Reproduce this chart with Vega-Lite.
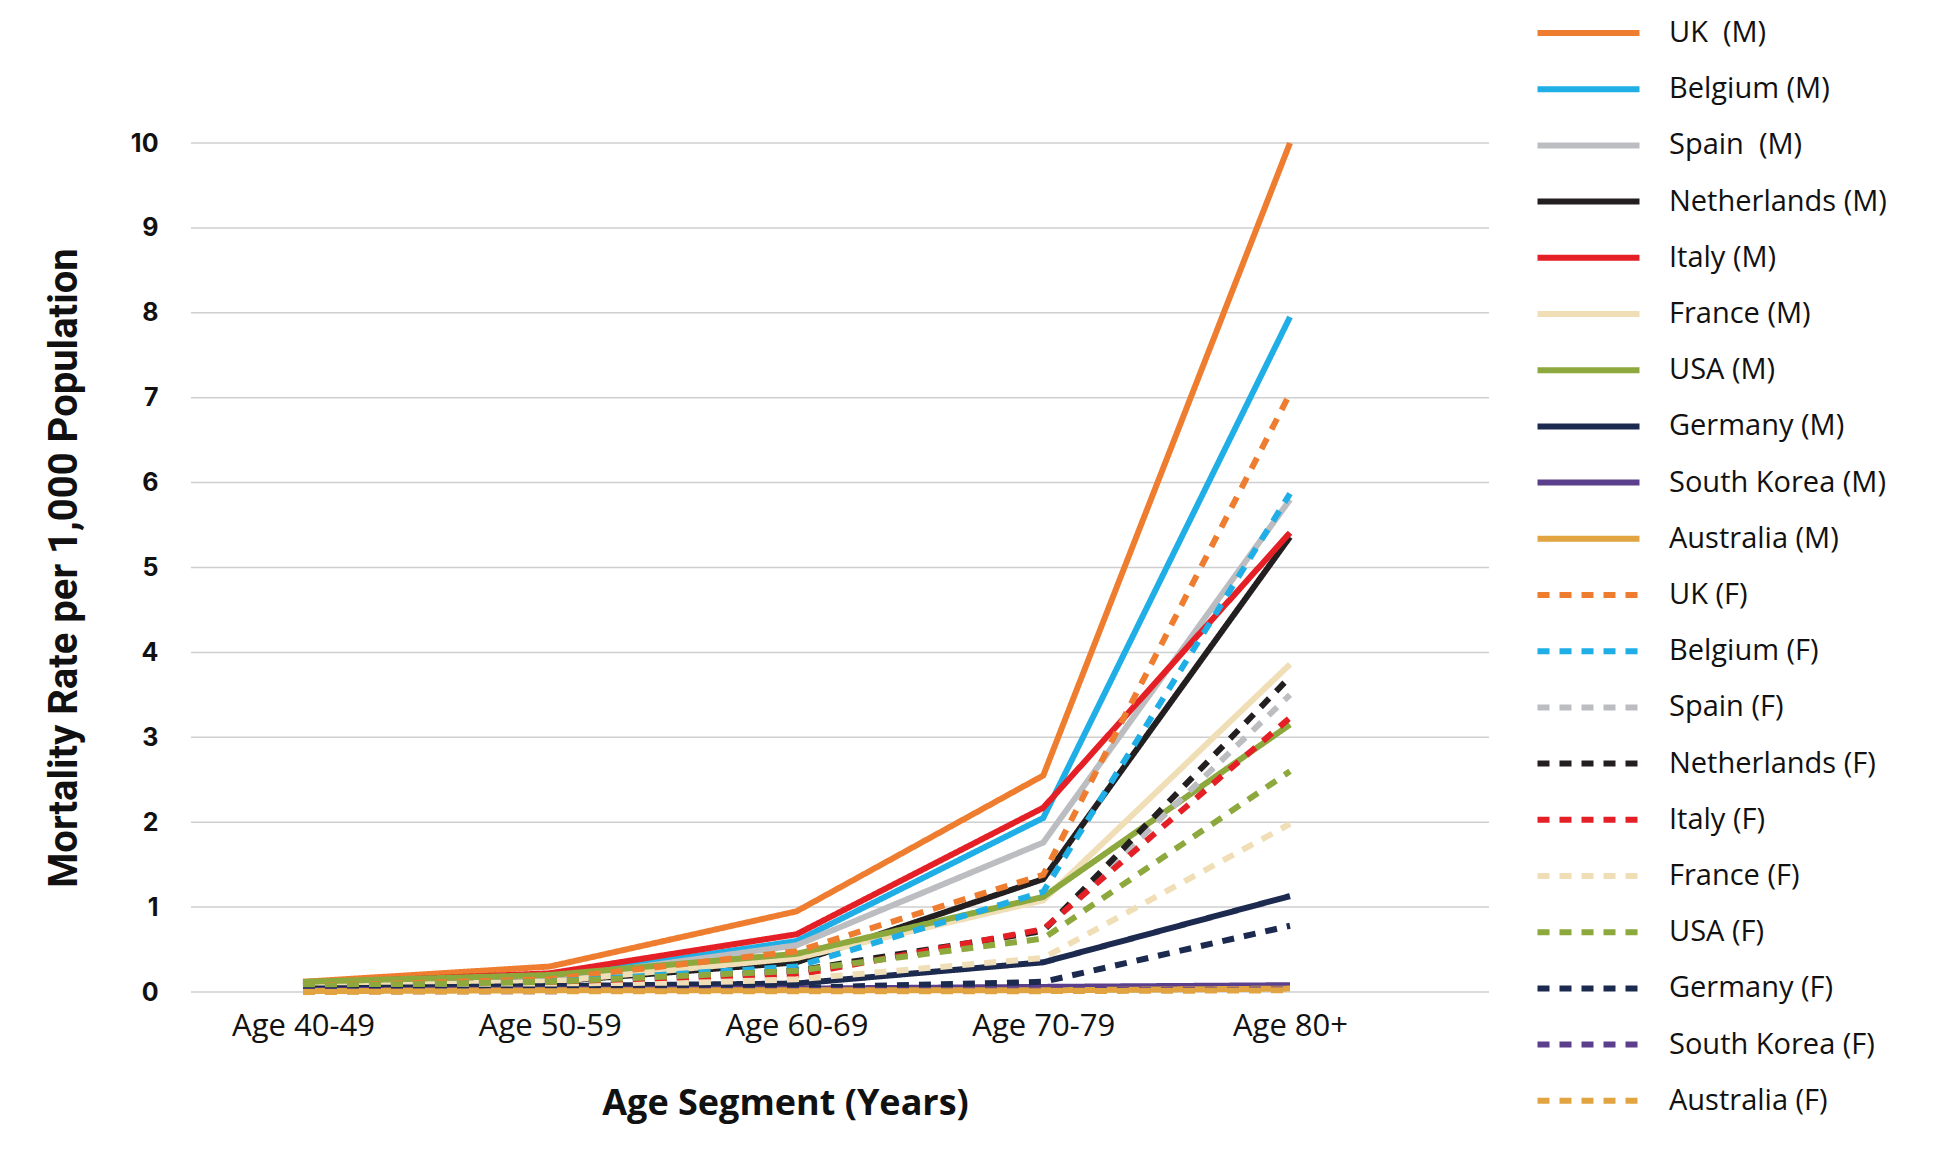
{
  "$schema": "https://vega.github.io/schema/vega-lite/v6.json",
  "autosize": "none",
  "width": 1298,
  "height": 849,
  "padding": {"left": 191, "top": 143, "right": 448, "bottom": 168},
  "background": "white",
  "config": {"view": {"stroke": null}, "font": "Open Sans"},
  "encoding": {
    "y": {
      "field": "rate", "type": "quantitative",
      "scale": {"domain": [0, 10], "nice": false, "zero": true},
      "axis": {
        "title": "Mortality Rate per 1,000 Population", "titleFont": "Roboto", "titleFontSize": 40, "titleFontWeight": "bold", "titleColor": "#111",
        "titlePadding": 46,
        "values": [0,1,2,3,4,5,6,7,8,9,10],
        "labelFont": "Inter", "labelFontSize": 25, "labelFontWeight": "bold", "labelColor": "#111", "labelPadding": 33,
        "ticks": false, "domain": false, "grid": false
      }
    }
  },
  "layer": [
    {
      "data": {"values": [{"rate": 0}, {"rate": 1}, {"rate": 2}, {"rate": 3}, {"rate": 4}, {"rate": 5}, {"rate": 6}, {"rate": 7}, {"rate": 8}, {"rate": 9}, {"rate": 10}]},
      "mark": {"type": "rule", "color": "#cfcfcf", "strokeWidth": 1.5},
      "encoding": {}
    },
    {
      "data": {"values": [
        {"series": "UK\u00a0\u00a0(M)", "age": "Age 40-49", "rate": 0.12},
        {"series": "UK\u00a0\u00a0(M)", "age": "Age 50-59", "rate": 0.30},
        {"series": "UK\u00a0\u00a0(M)", "age": "Age 60-69", "rate": 0.95},
        {"series": "UK\u00a0\u00a0(M)", "age": "Age 70-79", "rate": 2.55},
        {"series": "UK\u00a0\u00a0(M)", "age": "Age 80+", "rate": 10.0},
        {"series": "Belgium (M)", "age": "Age 40-49", "rate": 0.08},
        {"series": "Belgium (M)", "age": "Age 50-59", "rate": 0.17},
        {"series": "Belgium (M)", "age": "Age 60-69", "rate": 0.60},
        {"series": "Belgium (M)", "age": "Age 70-79", "rate": 2.05},
        {"series": "Belgium (M)", "age": "Age 80+", "rate": 7.95},
        {"series": "Spain\u00a0\u00a0(M)", "age": "Age 40-49", "rate": 0.08},
        {"series": "Spain\u00a0\u00a0(M)", "age": "Age 50-59", "rate": 0.15},
        {"series": "Spain\u00a0\u00a0(M)", "age": "Age 60-69", "rate": 0.55},
        {"series": "Spain\u00a0\u00a0(M)", "age": "Age 70-79", "rate": 1.76},
        {"series": "Spain\u00a0\u00a0(M)", "age": "Age 80+", "rate": 5.80},
        {"series": "Netherlands (M)", "age": "Age 40-49", "rate": 0.07},
        {"series": "Netherlands (M)", "age": "Age 50-59", "rate": 0.12},
        {"series": "Netherlands (M)", "age": "Age 60-69", "rate": 0.35},
        {"series": "Netherlands (M)", "age": "Age 70-79", "rate": 1.33},
        {"series": "Netherlands (M)", "age": "Age 80+", "rate": 5.36},
        {"series": "Italy (M)", "age": "Age 40-49", "rate": 0.10},
        {"series": "Italy (M)", "age": "Age 50-59", "rate": 0.22},
        {"series": "Italy (M)", "age": "Age 60-69", "rate": 0.68},
        {"series": "Italy (M)", "age": "Age 70-79", "rate": 2.17},
        {"series": "Italy (M)", "age": "Age 80+", "rate": 5.41},
        {"series": "France (M)", "age": "Age 40-49", "rate": 0.07},
        {"series": "France (M)", "age": "Age 50-59", "rate": 0.12},
        {"series": "France (M)", "age": "Age 60-69", "rate": 0.40},
        {"series": "France (M)", "age": "Age 70-79", "rate": 1.08},
        {"series": "France (M)", "age": "Age 80+", "rate": 3.86},
        {"series": "USA (M)", "age": "Age 40-49", "rate": 0.12},
        {"series": "USA (M)", "age": "Age 50-59", "rate": 0.20},
        {"series": "USA (M)", "age": "Age 60-69", "rate": 0.45},
        {"series": "USA (M)", "age": "Age 70-79", "rate": 1.12},
        {"series": "USA (M)", "age": "Age 80+", "rate": 3.15},
        {"series": "Germany (M)", "age": "Age 40-49", "rate": 0.04},
        {"series": "Germany (M)", "age": "Age 50-59", "rate": 0.07},
        {"series": "Germany (M)", "age": "Age 60-69", "rate": 0.10},
        {"series": "Germany (M)", "age": "Age 70-79", "rate": 0.35},
        {"series": "Germany (M)", "age": "Age 80+", "rate": 1.13},
        {"series": "South Korea (M)", "age": "Age 40-49", "rate": 0.02},
        {"series": "South Korea (M)", "age": "Age 50-59", "rate": 0.03},
        {"series": "South Korea (M)", "age": "Age 60-69", "rate": 0.04},
        {"series": "South Korea (M)", "age": "Age 70-79", "rate": 0.06},
        {"series": "South Korea (M)", "age": "Age 80+", "rate": 0.08},
        {"series": "Australia (M)", "age": "Age 40-49", "rate": 0.01},
        {"series": "Australia (M)", "age": "Age 50-59", "rate": 0.02},
        {"series": "Australia (M)", "age": "Age 60-69", "rate": 0.02},
        {"series": "Australia (M)", "age": "Age 70-79", "rate": 0.02},
        {"series": "Australia (M)", "age": "Age 80+", "rate": 0.04},
        {"series": "UK (F)", "age": "Age 40-49", "rate": 0.07},
        {"series": "UK (F)", "age": "Age 50-59", "rate": 0.15},
        {"series": "UK (F)", "age": "Age 60-69", "rate": 0.48},
        {"series": "UK (F)", "age": "Age 70-79", "rate": 1.38},
        {"series": "UK (F)", "age": "Age 80+", "rate": 7.05},
        {"series": "Belgium (F)", "age": "Age 40-49", "rate": 0.05},
        {"series": "Belgium (F)", "age": "Age 50-59", "rate": 0.12},
        {"series": "Belgium (F)", "age": "Age 60-69", "rate": 0.30},
        {"series": "Belgium (F)", "age": "Age 70-79", "rate": 1.18},
        {"series": "Belgium (F)", "age": "Age 80+", "rate": 5.87},
        {"series": "Spain (F)", "age": "Age 40-49", "rate": 0.04},
        {"series": "Spain (F)", "age": "Age 50-59", "rate": 0.07},
        {"series": "Spain (F)", "age": "Age 60-69", "rate": 0.22},
        {"series": "Spain (F)", "age": "Age 70-79", "rate": 0.72},
        {"series": "Spain (F)", "age": "Age 80+", "rate": 3.50},
        {"series": "Netherlands (F)", "age": "Age 40-49", "rate": 0.05},
        {"series": "Netherlands (F)", "age": "Age 50-59", "rate": 0.08},
        {"series": "Netherlands (F)", "age": "Age 60-69", "rate": 0.25},
        {"series": "Netherlands (F)", "age": "Age 70-79", "rate": 0.72},
        {"series": "Netherlands (F)", "age": "Age 80+", "rate": 3.71},
        {"series": "Italy (F)", "age": "Age 40-49", "rate": 0.05},
        {"series": "Italy (F)", "age": "Age 50-59", "rate": 0.10},
        {"series": "Italy (F)", "age": "Age 60-69", "rate": 0.20},
        {"series": "Italy (F)", "age": "Age 70-79", "rate": 0.74},
        {"series": "Italy (F)", "age": "Age 80+", "rate": 3.23},
        {"series": "France (F)", "age": "Age 40-49", "rate": 0.03},
        {"series": "France (F)", "age": "Age 50-59", "rate": 0.05},
        {"series": "France (F)", "age": "Age 60-69", "rate": 0.15},
        {"series": "France (F)", "age": "Age 70-79", "rate": 0.40},
        {"series": "France (F)", "age": "Age 80+", "rate": 1.98},
        {"series": "USA (F)", "age": "Age 40-49", "rate": 0.07},
        {"series": "USA (F)", "age": "Age 50-59", "rate": 0.12},
        {"series": "USA (F)", "age": "Age 60-69", "rate": 0.25},
        {"series": "USA (F)", "age": "Age 70-79", "rate": 0.63},
        {"series": "USA (F)", "age": "Age 80+", "rate": 2.60},
        {"series": "Germany (F)", "age": "Age 40-49", "rate": 0.02},
        {"series": "Germany (F)", "age": "Age 50-59", "rate": 0.03},
        {"series": "Germany (F)", "age": "Age 60-69", "rate": 0.05},
        {"series": "Germany (F)", "age": "Age 70-79", "rate": 0.12},
        {"series": "Germany (F)", "age": "Age 80+", "rate": 0.78},
        {"series": "South Korea (F)", "age": "Age 40-49", "rate": 0.01},
        {"series": "South Korea (F)", "age": "Age 50-59", "rate": 0.01},
        {"series": "South Korea (F)", "age": "Age 60-69", "rate": 0.02},
        {"series": "South Korea (F)", "age": "Age 70-79", "rate": 0.02},
        {"series": "South Korea (F)", "age": "Age 80+", "rate": 0.03},
        {"series": "Australia (F)", "age": "Age 40-49", "rate": 0.0},
        {"series": "Australia (F)", "age": "Age 50-59", "rate": 0.01},
        {"series": "Australia (F)", "age": "Age 60-69", "rate": 0.01},
        {"series": "Australia (F)", "age": "Age 70-79", "rate": 0.01},
        {"series": "Australia (F)", "age": "Age 80+", "rate": 0.02}
      ]},
      "mark": {"type": "line", "strokeWidth": 6, "strokeCap": "butt", "strokeJoin": "miter"},
      "encoding": {
        "x": {
          "field": "age", "type": "ordinal",
          "scale": {"type": "point", "padding": 0, "domain": ["Age 40-49", "Age 50-59", "Age 60-69", "Age 70-79", "Age 80+"], "range": [112, 1099]},
          "axis": {
            "title": "Age Segment (Years)", "titleFontSize": 36, "titleFontWeight": "bold", "titleColor": "#111",
            "titlePadding": 45, "titleX": 594, "titleAnchor": "middle",
            "labelFontSize": 31, "labelColor": "#111", "labelPadding": 19, "labelAngle": 0,
            "ticks": false, "domain": false, "grid": false
          }
        },
        "color": {
          "field": "series", "type": "nominal",
          "scale": {
            "domain": ["UK\u00a0\u00a0(M)", "Belgium (M)", "Spain\u00a0\u00a0(M)", "Netherlands (M)", "Italy (M)", "France (M)", "USA (M)", "Germany (M)", "South Korea (M)", "Australia (M)", "UK (F)", "Belgium (F)", "Spain (F)", "Netherlands (F)", "Italy (F)", "France (F)", "USA (F)", "Germany (F)", "South Korea (F)", "Australia (F)"],
            "range": ["#EE7D2F", "#1FAEE5", "#BBBDC0", "#231F20", "#E41F26", "#F0DFB6", "#8DA83C", "#1C2A50", "#5B3F8C", "#E1A441", "#EE7D2F", "#1FAEE5", "#BBBDC0", "#231F20", "#E41F26", "#F0DFB6", "#8DA83C", "#1C2A50", "#5B3F8C", "#E1A441"]
          },
          "legend": {
            "title": null, "orient": "none", "legendX": 1369, "legendY": -138.5, "direction": "vertical", "columns": 1,
            "symbolType": "M-2,0H2", "symbolSize": 2601, "symbolStrokeWidth": 6,
            "labelFont": "Open Sans", "labelFontSize": 29, "labelColor": "#111", "labelOffset": 52, "rowPadding": 12.2, "labelLimit": 400
          }
        },
        "strokeDash": {
          "field": "series", "type": "nominal",
          "scale": {
            "domain": ["UK\u00a0\u00a0(M)", "Belgium (M)", "Spain\u00a0\u00a0(M)", "Netherlands (M)", "Italy (M)", "France (M)", "USA (M)", "Germany (M)", "South Korea (M)", "Australia (M)", "UK (F)", "Belgium (F)", "Spain (F)", "Netherlands (F)", "Italy (F)", "France (F)", "USA (F)", "Germany (F)", "South Korea (F)", "Australia (F)"],
            "range": [[1,0],[1,0],[1,0],[1,0],[1,0],[1,0],[1,0],[1,0],[1,0],[1,0],[12,10],[12,10],[12,10],[12,10],[12,10],[12,10],[12,10],[12,10],[12,10],[12,10]]
          },
          "legend": null
        }
      }
    }
  ]
}
